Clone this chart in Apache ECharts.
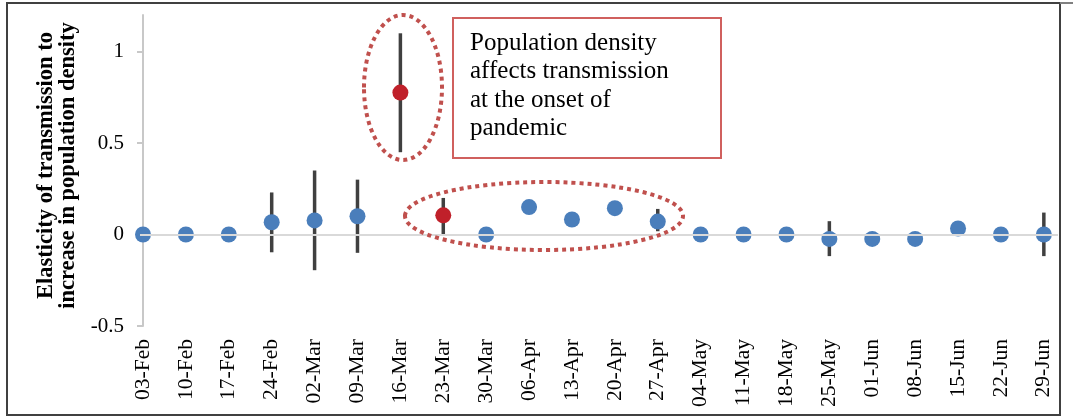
<!DOCTYPE html>
<html><head><meta charset="utf-8">
<script src="https://cdn.jsdelivr.net/npm/echarts@6/dist/echarts.min.js"></script>
<style>html,body{margin:0;padding:0;background:#fff}#c{width:1073px;height:416px}</style>
</head><body><div id="c"></div>
<script>
const categories = ['03-Feb','10-Feb','17-Feb','24-Feb','02-Mar','09-Mar','16-Mar','23-Mar','30-Mar','06-Apr','13-Apr','20-Apr','27-Apr','04-May','11-May','18-May','25-May','01-Jun','08-Jun','15-Jun','22-Jun','29-Jun'];
const elasticity = [0, 0, 0, 0.067, 0.077, 0.10, 0.776, 0.105, 0.0, 0.15, 0.082, 0.144, 0.071, 0, 0, 0, -0.024, -0.024, -0.024, 0.033, 0, 0];
const lowerBound = [null, null, null, -0.097, -0.195, -0.10, 0.45, 0.0, null, null, null, null, 0.018, null, null, null, -0.118, null, null, null, null, -0.118];
const upperBound = [null, null, null, 0.23, 0.35, 0.30, 1.10, 0.20, null, null, null, null, 0.14, null, null, null, 0.073, null, null, null, null, 0.12];
const highlighted = ['16-Mar', '23-Mar'];
const yTicks = [-0.5, 0, 0.5, 1];
const yTitle = 'Elasticity of transmission to\nincrease in population density';
const noteText = 'Population density\naffects transmission\nat the onset of\npandemic';

const catIdx = categories.map((_, i) => i);
const pts = categories.map((c, i) => ({
  value: [i, elasticity[i]],
  itemStyle: { color: highlighted.includes(c) ? '#c0202a' : '#4a7ebb', opacity: 1 }
}));
const bars = [];
categories.forEach((c, i) => { if (lowerBound[i] != null) bars.push([i, lowerBound[i], upperBound[i]]); });

const chart = echarts.init(document.getElementById('c'));
const serif = 'Liberation Serif, Times New Roman, serif';
chart.setOption({
  animation: false,
  grid: { left: 140, right: 15, top: 15, bottom: 90 },
  xAxis: {
    type: 'value', min: -0.07, max: 21.33,
    axisLine: { show: false },
    axisTick: { show: false, customValues: catIdx },
    splitLine: { show: false },
    axisLabel: {
      customValues: catIdx, rotate: 90, margin: 13,
      fontFamily: serif, fontSize: 21.5, color: '#000',
      formatter: v => categories[Math.round(v)] || ''
    }
  },
  yAxis: {
    type: 'value', min: -0.5, max: 1.2,
    axisLine: { show: true, lineStyle: { color: '#c8c8c8', width: 2 } },
    axisTick: { show: true, length: 6, customValues: yTicks, lineStyle: { color: '#c8c8c8', width: 2 } },
    splitLine: { show: false },
    axisLabel: { customValues: yTicks, fontFamily: serif, fontSize: 21, color: '#000', margin: 16 },
    name: yTitle, nameLocation: 'middle', nameGap: 57, nameRotate: 90,
    nameTextStyle: { fontFamily: serif, fontSize: 22.5, fontWeight: 'bold', color: '#000', lineHeight: 22, padding: [0, 0, 0, 10] }
  },
  series: [
    {
      type: 'line', data: [], z: 1,
      markLine: {
        silent: true, symbol: ['none', 'none'], label: { show: false },
        lineStyle: { color: '#d9d9d9', width: 2, type: 'solid' },
        data: [{ yAxis: 0 }]
      }
    },
    {
      type: 'custom', z: 2, data: bars,
      renderItem: (params, api) => {
        const a = api.coord([api.value(0), api.value(1)]);
        const b = api.coord([api.value(0), api.value(2)]);
        return { type: 'line', shape: { x1: a[0], y1: a[1], x2: b[0], y2: b[1] },
          style: { stroke: '#404040', lineWidth: 3.5 } };
      }
    },
    { type: 'scatter', z: 3, symbolSize: 16, data: pts }
  ],
  graphic: [
    { type: 'rect', shape: { x: 7, y: 3, width: 1053, height: 412 }, style: { fill: 'none', stroke: '#404040', lineWidth: 2 } },
    { type: 'line', shape: { x1: 1060, y1: 3, x2: 1073, y2: 3 }, style: { stroke: '#808080', lineWidth: 2 } },
    { type: 'ellipse', shape: { cx: 403, cy: 87.5, rx: 39, ry: 72.5 }, style: { fill: 'none', stroke: '#c0504d', lineWidth: 4, lineDash: [4, 4] }, z: 10 },
    { type: 'ellipse', shape: { cx: 544, cy: 216, rx: 139, ry: 34 }, style: { fill: 'none', stroke: '#c0504d', lineWidth: 4, lineDash: [4, 4] }, z: 10 },
    { type: 'rect', shape: { x: 453, y: 18, width: 268, height: 140 }, style: { fill: '#fff', stroke: '#d0605e', lineWidth: 2 }, z: 10 },
    { type: 'text', x: 470, y: 29, z: 11, style: { text: noteText, font: '25px ' + serif, fill: '#000', lineHeight: 28.5 } }
  ]
});
</script></body></html>
